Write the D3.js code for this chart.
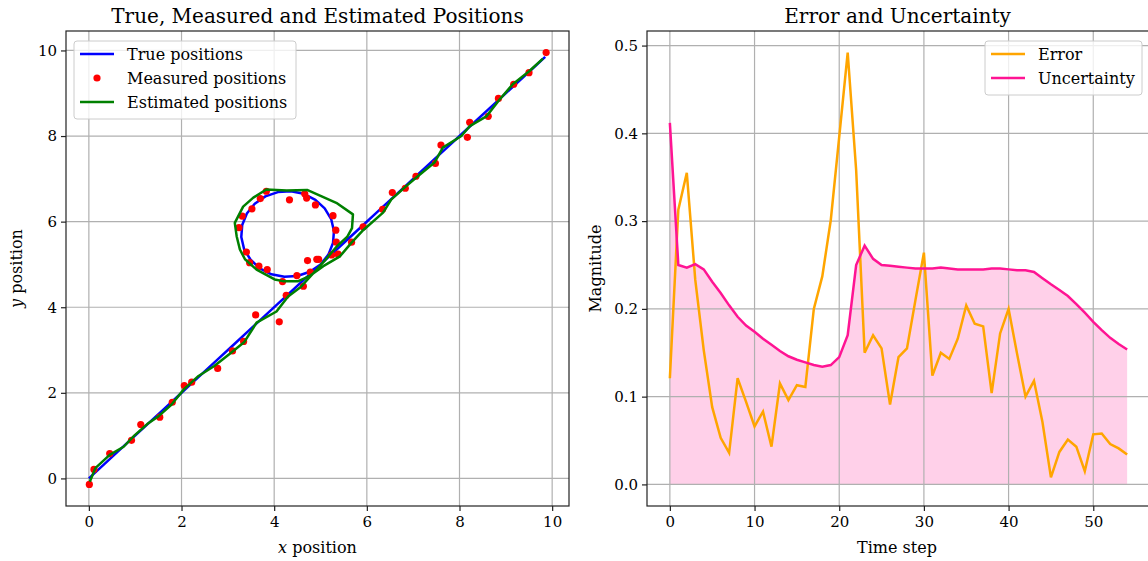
<!DOCTYPE html>
<html>
<head>
<meta charset="utf-8">
<script src="https://d3js.org/d3.v7.min.js"></script>
<style>
body { margin: 0; background: #fff; }
svg { font-family: "DejaVu Serif", serif; }
</style>
</head>
<body>
<svg id="chart" width="1148" height="561"></svg>
<script>
// ---- left panel: positions ----
var trueX = [0, 0.31, 0.63, 0.94, 1.25, 1.56, 1.88, 2.19, 2.50, 2.81, 3.13, 3.44, 3.75, 4.06, 4.38, 4.69,
  5.00, 5.17, 5.27, 5.29, 5.23, 5.09, 4.89, 4.64, 4.36, 4.08, 3.81, 3.58, 3.41, 3.31, 3.29, 3.35, 3.49, 3.69, 3.94, 4.22, 4.50, 4.77, 5.00,
  5.30, 5.60, 5.91, 6.21, 6.52, 6.82, 7.12, 7.43, 7.73, 8.03, 8.34, 8.64, 8.94, 9.25, 9.55, 9.85];
var trueY = [0, 0.31, 0.63, 0.94, 1.25, 1.56, 1.88, 2.19, 2.50, 2.81, 3.13, 3.44, 3.75, 4.06, 4.38, 4.69,
  5.00, 5.23, 5.50, 5.78, 6.06, 6.31, 6.51, 6.65, 6.71, 6.69, 6.59, 6.42, 6.19, 5.92, 5.64, 5.36, 5.11, 4.91, 4.77, 4.71, 4.73, 4.83, 5.00,
  5.30, 5.60, 5.91, 6.21, 6.52, 6.82, 7.12, 7.43, 7.73, 8.03, 8.34, 8.64, 8.94, 9.25, 9.55, 9.85];

var measX = [0.01, 0.11, 0.45, 0.92, 1.12, 1.53, 1.80, 2.06, 2.22, 2.78, 3.10, 3.34, 3.60, 4.11, 4.26, 4.63,
  5.24, 5.38, 5.34, 5.33, 5.27, 4.89, 4.70, 4.66, 4.33, 3.83, 3.70, 3.52, 3.31, 3.24, 3.40, 3.47, 3.67, 3.85, 4.18, 4.49, 4.72, 4.78, 4.92, 4.96,
  5.67, 5.92, 6.34, 6.55, 6.83, 7.06, 7.48, 7.60, 8.17, 8.22, 8.62, 8.84, 9.17, 9.50, 9.87];
var measY = [-0.14, 0.21, 0.58, 0.89, 1.26, 1.43, 1.78, 2.17, 2.25, 2.57, 2.98, 3.20, 3.82, 3.66, 4.28, 4.49,
  5.22, 5.24, 5.52, 5.80, 6.14, 6.39, 6.55, 6.65, 6.51, 6.71, 6.54, 6.30, 6.13, 5.86, 5.29, 5.04, 4.96, 4.88, 4.60, 4.74, 5.09, 4.82, 5.12, 5.12,
  5.52, 5.88, 6.29, 6.68, 6.78, 7.06, 7.36, 7.79, 7.97, 8.32, 8.46, 8.88, 9.21, 9.48, 9.95];

var estX = [0.02, 0.14, 0.45, 0.75, 0.98, 1.26, 1.50, 1.78, 2.05, 2.35, 2.70, 3.05, 3.35, 3.62, 4.05, 4.30,
  4.58, 4.85, 5.10, 5.35, 5.58, 5.68, 5.70, 5.34, 4.71, 4.27, 3.83, 3.55, 3.33, 3.15, 3.19, 3.26, 3.37, 3.62, 4.01, 4.19, 4.52, 4.75, 5.06, 5.42,
  5.67, 5.92, 6.35, 6.53, 6.85, 7.10, 7.46, 7.64, 8.04, 8.22, 8.58, 8.87, 9.15, 9.51, 9.80];
var estY = [-0.08, 0.24, 0.55, 0.74, 1.00, 1.27, 1.45, 1.72, 2.08, 2.38, 2.62, 2.92, 3.18, 3.64, 3.90, 4.25,
  4.48, 4.80, 5.10, 5.42, 5.65, 5.85, 6.17, 6.44, 6.74, 6.73, 6.75, 6.56, 6.35, 5.97, 5.66, 5.35, 5.12, 4.88, 4.65, 4.61, 4.61, 4.72, 4.96, 5.19,
  5.51, 5.80, 6.21, 6.52, 6.83, 7.06, 7.38, 7.73, 8.00, 8.23, 8.46, 8.86, 9.21, 9.52, 9.81];

// ---- right panel: error and uncertainty per time step ----
var errorVals = [0.121, 0.313, 0.355, 0.233, 0.153, 0.088, 0.053, 0.036, 0.121, 0.094,
  0.066, 0.083, 0.043, 0.115, 0.096, 0.113, 0.111, 0.200, 0.237, 0.301,
  0.396, 0.492, 0.358, 0.150, 0.170, 0.155, 0.091, 0.145, 0.155, 0.210,
  0.264, 0.124, 0.150, 0.143, 0.166, 0.204, 0.183, 0.180, 0.104, 0.172,
  0.200, 0.149, 0.100, 0.118, 0.071, 0.008, 0.037, 0.051, 0.043, 0.015,
  0.057, 0.058, 0.046, 0.041, 0.034];
var uncertVals = [0.412, 0.250, 0.247, 0.251, 0.245, 0.231, 0.218, 0.204, 0.191, 0.181,
  0.174, 0.166, 0.159, 0.152, 0.146, 0.142, 0.139, 0.136, 0.134, 0.136,
  0.145, 0.170, 0.250, 0.272, 0.257, 0.250, 0.249, 0.248, 0.247, 0.246,
  0.246, 0.246, 0.247, 0.246, 0.245, 0.245, 0.245, 0.245, 0.246, 0.246,
  0.245, 0.244, 0.244, 0.242, 0.235, 0.228, 0.2215, 0.2146, 0.2055, 0.1956,
  0.1853, 0.1758, 0.167, 0.160, 0.1537];
var steps = d3.range(errorVals.length);

var posTicks = [0, 2, 4, 6, 8, 10];
var stepTicks = [0, 10, 20, 30, 40, 50];
var magTicks = [0, 0.1, 0.2, 0.3, 0.4, 0.5];

var svg = d3.select("#chart");

// matplotlib style 5% margins
function padded(vals) {
  var ext = d3.extent(vals);
  var m = (ext[1] - ext[0]) * 0.05;
  return [ext[0] - m, ext[1] + m];
}

function frame(box, x, y, xt, yt, yfmt) {
  var g = svg.append("g");
  g.append("g").selectAll("line").data(xt).join("line")
    .attr("x1", d => x(d)).attr("x2", d => x(d))
    .attr("y1", box.top).attr("y2", box.bottom)
    .attr("stroke", "#b0b0b0").attr("stroke-width", 1.2);
  g.append("g").selectAll("line").data(yt).join("line")
    .attr("y1", d => y(d)).attr("y2", d => y(d))
    .attr("x1", box.left).attr("x2", box.right)
    .attr("stroke", "#b0b0b0").attr("stroke-width", 1.2);

  var ax = g.append("g").attr("transform", "translate(0," + box.bottom + ")")
    .call(d3.axisBottom(x).tickValues(xt).tickSize(5).tickPadding(5).tickFormat(d3.format("d")));
  var ay = g.append("g").attr("transform", "translate(" + box.left + ",0)")
    .call(d3.axisLeft(y).tickValues(yt).tickSize(5).tickPadding(4).tickFormat(yfmt));
  [ax, ay].forEach(function(a) {
    a.select(".domain").remove();
    a.selectAll("line").attr("stroke", "#222").attr("stroke-width", 1.2);
    a.selectAll("text").attr("fill", "#000").attr("font-size", 15).attr("font-family", "DejaVu Serif");
  });
  return g;
}

function border(box) {
  svg.append("rect")
    .attr("x", box.left).attr("y", box.top)
    .attr("width", box.right - box.left).attr("height", box.bottom - box.top)
    .attr("fill", "none").attr("stroke", "#222").attr("stroke-width", 1.2);
}

function legend(lx, ly, w, items) {
  var g = svg.append("g").attr("transform", "translate(" + lx + "," + ly + ")");
  g.append("rect").attr("width", w).attr("height", items.length * 24 + 6)
    .attr("rx", 3).attr("fill", "#fff").attr("fill-opacity", 0.8)
    .attr("stroke", "#ccc").attr("stroke-width", 1);
  items.forEach(function(it, i) {
    var cy = 13 + i * 24;
    if (it.dot) {
      g.append("circle").attr("cx", 23).attr("cy", cy).attr("r", 3.6).attr("fill", it.color);
    } else {
      g.append("line").attr("x1", 6).attr("x2", 40).attr("y1", cy).attr("y2", cy)
        .attr("stroke", it.color).attr("stroke-width", 2.5);
    }
    g.append("text").attr("x", 53).attr("y", cy).attr("dy", "0.35em")
      .attr("font-size", 16).text(it.label);
  });
}

// ---------- left panel ----------
var boxL = {left: 66, right: 569, top: 31, bottom: 506};
var xL = d3.scaleLinear().domain(padded(trueX.concat(measX, estX))).range([boxL.left, boxL.right]);
var yL = d3.scaleLinear().domain(padded(trueY.concat(measY, estY))).range([boxL.bottom, boxL.top]);

frame(boxL, xL, yL, posTicks, posTicks, d3.format("d"));

var lineL = d3.line().x(d => xL(d[0])).y(d => yL(d[1]));
svg.append("path").datum(d3.zip(trueX, trueY))
  .attr("d", lineL).attr("fill", "none").attr("stroke", "#0000ff").attr("stroke-width", 2.5)
  .attr("stroke-linejoin", "round");
svg.append("g").selectAll("circle").data(d3.zip(measX, measY)).join("circle")
  .attr("cx", d => xL(d[0])).attr("cy", d => yL(d[1])).attr("r", 3.6).attr("fill", "#ff0000");
svg.append("path").datum(d3.zip(estX, estY))
  .attr("d", lineL).attr("fill", "none").attr("stroke", "#008000").attr("stroke-width", 2.5)
  .attr("stroke-linejoin", "round");
border(boxL);

legend(boxL.left + 8, boxL.top + 10, 222, [
  {label: "True positions", color: "#0000ff"},
  {label: "Measured positions", color: "#ff0000", dot: true},
  {label: "Estimated positions", color: "#008000"}
]);

svg.append("text").attr("x", (boxL.left + boxL.right) / 2).attr("y", 23)
  .attr("text-anchor", "middle").attr("font-size", 20).text("True, Measured and Estimated Positions");
var xlab = svg.append("text").attr("x", (boxL.left + boxL.right) / 2).attr("y", 553)
  .attr("text-anchor", "middle").attr("font-size", 16);
xlab.append("tspan").attr("font-style", "italic").text("x");
xlab.append("tspan").text(" position");
var ylab = svg.append("text").attr("transform", "translate(22," + (boxL.top + boxL.bottom) / 2 + ") rotate(-90)")
  .attr("text-anchor", "middle").attr("font-size", 16);
ylab.append("tspan").attr("font-style", "italic").text("y");
ylab.append("tspan").text(" position");

// ---------- right panel ----------
var boxR = {left: 647, right: 1150, top: 31, bottom: 506};
var xR = d3.scaleLinear().domain(padded(steps)).range([boxR.left, boxR.right]);
var yR = d3.scaleLinear().domain(padded(errorVals.concat(uncertVals, [0]))).range([boxR.bottom, boxR.top]);

svg.append("path").datum(steps)
  .attr("d", d3.area().x(d => xR(d)).y0(yR(0)).y1(d => yR(uncertVals[d])))
  .attr("fill", "#ff1493").attr("fill-opacity", 0.2);

frame(boxR, xR, yR, stepTicks, magTicks, d3.format(".1f"));

svg.append("path").datum(steps)
  .attr("d", d3.line().x(d => xR(d)).y(d => yR(errorVals[d])))
  .attr("fill", "none").attr("stroke", "#ffa500").attr("stroke-width", 2.5);
svg.append("path").datum(steps)
  .attr("d", d3.line().x(d => xR(d)).y(d => yR(uncertVals[d])))
  .attr("fill", "none").attr("stroke", "#ff1493").attr("stroke-width", 2.5);
border(boxR);

legend(985, boxR.top + 10, 157, [
  {label: "Error", color: "#ffa500"},
  {label: "Uncertainty", color: "#ff1493"}
]);

svg.append("text").attr("x", (boxR.left + 1148) / 2).attr("y", 23)
  .attr("text-anchor", "middle").attr("font-size", 20).text("Error and Uncertainty");
svg.append("text").attr("x", 897).attr("y", 553)
  .attr("text-anchor", "middle").attr("font-size", 16).text("Time step");
svg.append("text").attr("transform", "translate(601," + (boxR.top + boxR.bottom) / 2 + ") rotate(-90)")
  .attr("text-anchor", "middle").attr("font-size", 16).text("Magnitude");
</script>
</body>
</html>
